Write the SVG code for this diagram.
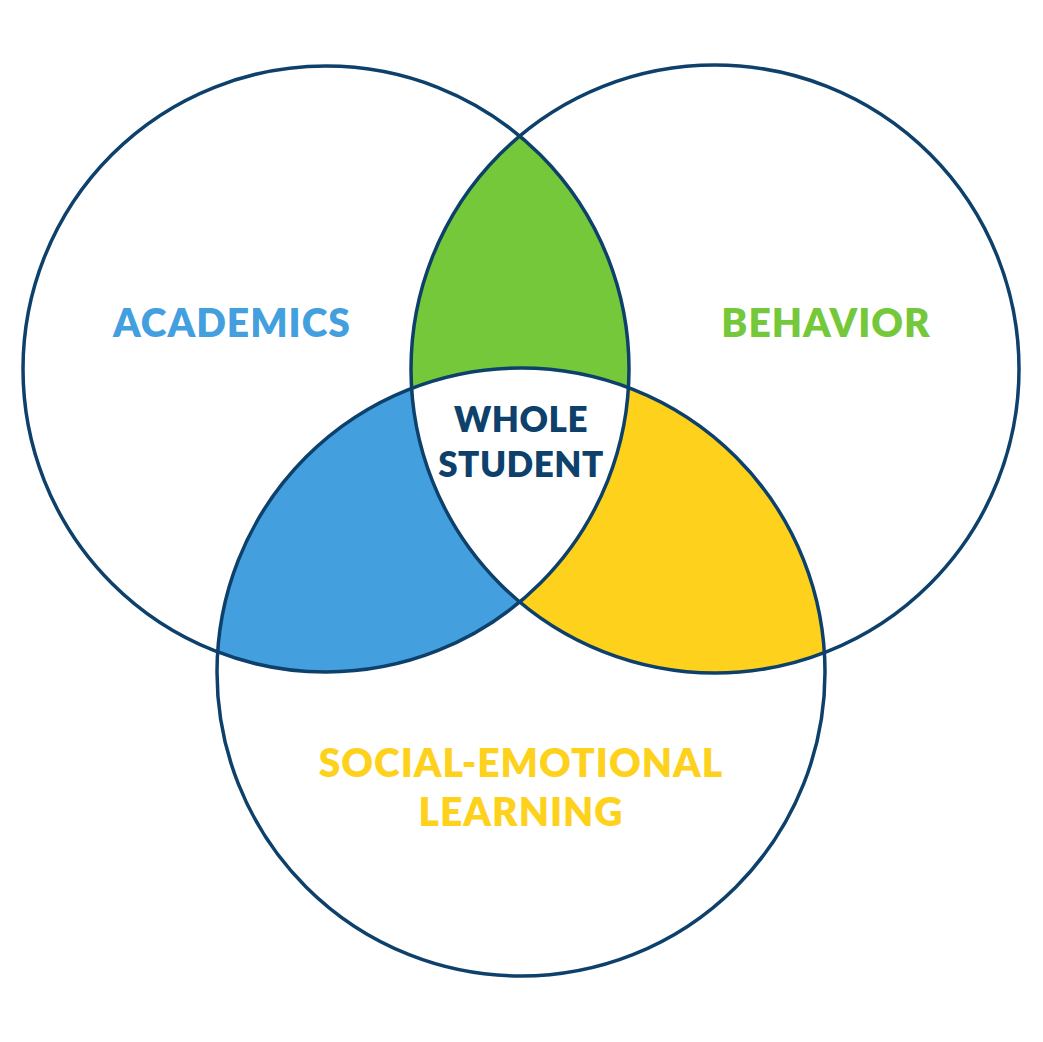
<svg xmlns="http://www.w3.org/2000/svg" width="1043" height="1042" viewBox="0 0 1043 1042">
<style>
.c{fill:none;stroke:#0d416b;stroke-width:3.5}
text{font-family:Lato,"Open Sans",sans-serif;font-weight:800;text-anchor:middle}
.l{font-size:39px;letter-spacing:1px}
.w{font-size:35px;letter-spacing:0.5px;fill:#0d416b}
</style>
<defs>
<clipPath id="cl"><circle cx="326" cy="369" r="303"/></clipPath>
<clipPath id="cr"><circle cx="715" cy="369" r="304"/></clipPath>
<clipPath id="cb"><circle cx="521" cy="672" r="304"/></clipPath>
</defs>
<rect width="1043" height="1042" fill="#fff"/>
<g id="regions">
<circle cx="715" cy="369" r="304" fill="#75c83a" clip-path="url(#cl)"/>
<circle cx="521" cy="672" r="304" fill="#449fdf" clip-path="url(#cl)"/>
<circle cx="521" cy="672" r="304" fill="#fdd11c" clip-path="url(#cr)"/>
<g clip-path="url(#cl)"><circle cx="521" cy="672" r="304" fill="#fff" clip-path="url(#cr)"/></g>
</g>
<g id="academics"><circle class="c" cx="326" cy="369" r="303"/><text class="l" x="232" y="337" fill="#449fdf">ACADEMICS</text></g>
<g id="behavior"><circle class="c" cx="715" cy="369" r="304"/><text class="l" x="826" y="337" fill="#75c83a">BEHAVIOR</text></g>
<g id="sel"><circle class="c" cx="521" cy="672" r="304"/><text class="l" x="521" y="777" fill="#fdd11c">SOCIAL-EMOTIONAL</text><text class="l" x="521" y="826" fill="#fdd11c">LEARNING</text></g>
<g id="whole"><text class="w" x="521" y="432">WHOLE</text><text class="w" x="521" y="477">STUDENT</text></g>
<g id="connectors"/>
</svg>
